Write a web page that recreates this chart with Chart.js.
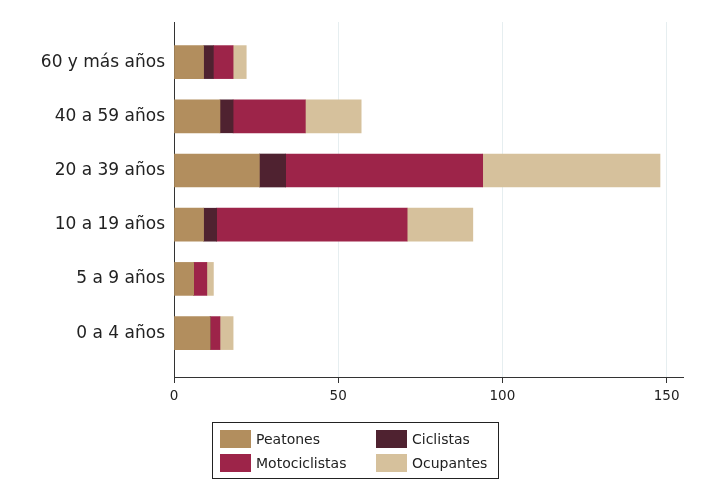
<!DOCTYPE html>
<html>
<head>
<meta charset="utf-8">
<script src="https://cdn.jsdelivr.net/npm/chart.js@4.4.0/dist/chart.umd.min.js"></script>
<style>
  body { margin: 0; background: #fff; }
  #wrap { position: relative; width: 703px; height: 502px; }
  #legend {
    position: absolute; left: 212px; top: 422px; width: 287px; height: 57px;
    border: 1px solid #222; box-sizing: border-box;
    font-family: "DejaVu Sans", sans-serif; font-size: 14px; color: #222;
  }
  .item { position: absolute; display: flex; align-items: center; height: 18px; }
  .sw { width: 31px; height: 18px; margin-right: 5px; }
</style>
</head>
<body>
<div id="wrap">
  <canvas id="myChart" width="703" height="502"></canvas>
  <div id="legend"></div>
</div>
<script>
// bottom to top
const categories = ['0 a 4 años', '5 a 9 años', '10 a 19 años', '20 a 39 años', '40 a 59 años', '60 y más años'];
const peatones = [11, 6, 9, 26, 14, 9];
const ciclistas = [0, 0, 4, 8, 4, 3];
const motociclistas = [3, 4, 58, 60, 22, 6];
const ocupantes = [4, 2, 20, 54, 17, 4];
const xTicks = [0, 50, 100, 150];

const series = [
  { label: 'Peatones', data: peatones, color: '#b28e5e' },
  { label: 'Ciclistas', data: ciclistas, color: '#4f2230' },
  { label: 'Motociclistas', data: motociclistas, color: '#9d2449' },
  { label: 'Ocupantes', data: ocupantes, color: '#d6c19c' }
];

const font = 'DejaVu Sans';

const ctx = document.getElementById('myChart').getContext('2d');
const myChart = new Chart(ctx, {
  type: 'bar',
  data: {
    datasets: series.map(s => ({
      label: s.label,
      data: s.data.map((v, i) => ({ x: v, y: i })),
      backgroundColor: s.color,
      borderWidth: 0,
      barThickness: 33
    }))
  },
  options: {
    indexAxis: 'y',
    responsive: false,
    animation: false,
    devicePixelRatio: 1,
    layout: { padding: { top: 22, right: 20, left: 0, bottom: 0 } },
    plugins: { legend: { display: false }, tooltip: { enabled: false } },
    scales: {
      x: {
        type: 'linear',
        stacked: true,
        min: 0,
        max: 155,
        afterBuildTicks: s => { s.ticks = xTicks.map(v => ({ value: v })); },
        afterFit: s => { s.height = 125; },
        grid: { color: '#e6eef0', tickColor: '#333', tickLength: 6, drawOnChartArea: true },
        border: { color: '#333', width: 1 },
        ticks: { color: '#222', font: { family: font, size: 13.5 }, padding: 5 }
      },
      y: {
        type: 'linear',
        stacked: true,
        offset: false,
        min: -0.81,
        max: 5.74,
        afterBuildTicks: s => { s.ticks = categories.map((_, i) => ({ value: i })); },
        afterFit: s => { s.width = 174; },
        grid: { display: false, drawTicks: false, offset: false },
        border: { color: '#333', width: 1 },
        ticks: {
          color: '#222',
          font: { family: font, size: 17 },
          padding: 9,
          callback: v => categories[v]
        }
      }
    }
  }
});

const legend = document.getElementById('legend');
series.forEach((s, i) => {
  const el = document.createElement('div');
  el.className = 'item';
  el.style.left = (i % 2 === 0 ? 7 : 163) + 'px';
  el.style.top = (i < 2 ? 7 : 31) + 'px';
  el.innerHTML = '<span class="sw" style="background:' + s.color + '"></span><span>' + s.label + '</span>';
  legend.appendChild(el);
});
</script>
</body>
</html>
